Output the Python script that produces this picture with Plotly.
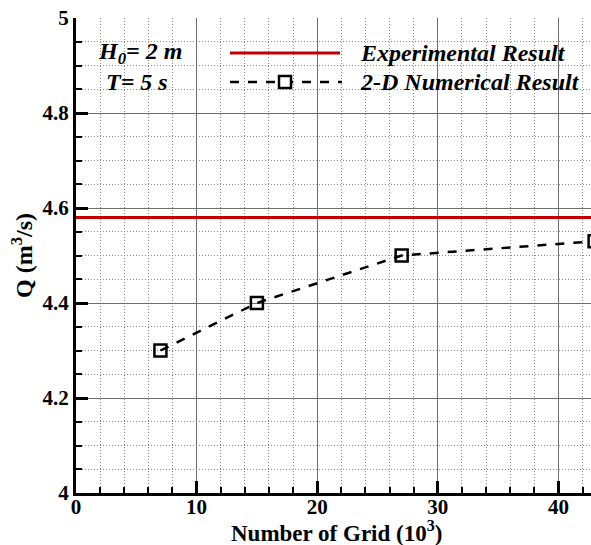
import plotly.graph_objects as go

# Data
grid_k = [7, 15, 27, 43]
q_numerical = [4.30, 4.40, 4.50, 4.53]
q_experimental = 4.58
x_ticks = [0, 10, 20, 30, 40]
y_ticks = [4.0, 4.2, 4.4, 4.6, 4.8, 5.0]
y_tick_labels = ["4", "4.2", "4.4", "4.6", "4.8", "5"]

FONT = "Liberation Serif"
RED = "#C00000"
TICK_SIZE = 21
TEXT_SIZE = 24

fig = go.Figure()

# experimental horizontal line
fig.add_trace(go.Scatter(
    x=[-5, 60], y=[q_experimental, q_experimental], mode="lines",
    line=dict(color=RED, width=3), showlegend=False, hoverinfo="skip"))

# numerical results
fig.add_trace(go.Scatter(
    x=grid_k, y=q_numerical, mode="lines+markers",
    line=dict(color="black", width=2.5, dash="9px,9px"),
    marker=dict(symbol="square-open", size=12, color="black",
                line=dict(color="black", width=2.5)),
    showlegend=False, hoverinfo="skip"))

axis_common = dict(
    showline=True, linecolor="black", linewidth=3, mirror=False,
    ticks="inside", ticklen=12, tickwidth=3, tickcolor="black",
    showgrid=True, gridcolor="#6e6e6e", gridwidth=1,
    zeroline=False,
    tickfont=dict(family=FONT, size=TICK_SIZE, color="black", weight="bold"),
)

fig.update_xaxes(
    range=[0, 42.7], tickvals=x_ticks, ticktext=[str(v) for v in x_ticks],
    ticklabelstandoff=-7,
    minor=dict(dtick=2, ticks="inside", ticklen=6, tickwidth=2, tickcolor="black",
               showgrid=True, gridcolor="#8c8c8c", gridwidth=1, griddash="1px,2px"),
    **axis_common)
fig.update_yaxes(
    range=[4.0, 5.0], tickvals=y_ticks, ticktext=y_tick_labels,
    minor=dict(dtick=0.05, ticks="inside", ticklen=6, tickwidth=2, tickcolor="black",
               showgrid=True, gridcolor="#8c8c8c", gridwidth=1, griddash="1px,2px"),
    **axis_common)

plot_left, plot_w = 76, 515
plot_top, plot_h = 18, 475


def px(v):
    return (v - plot_left) / plot_w


def py(v):
    return 1 - (v - plot_top) / plot_h


annotations = [
    dict(text="<b>Number of Grid (10<sup>3</sup>)</b>", x=px(336), y=py(531),
         showarrow=False, xanchor="center", yanchor="middle",
         font=dict(family=FONT, size=23, color="black")),
    dict(text="<b>Q (m<sup>3</sup>/s)</b>", x=px(22), y=py(256), textangle=-90,
         showarrow=False, xanchor="center", yanchor="middle",
         font=dict(family=FONT, size=TEXT_SIZE, color="black")),
    dict(text="<b><i>H<sub>0</sub>= 2 m</i></b>", x=px(96), y=py(53),
         showarrow=False, xanchor="left", yanchor="middle",
         font=dict(family=FONT, size=TEXT_SIZE, color="black")),
    dict(text="<b><i>T= 5 s</i></b>", x=px(104), y=py(82),
         showarrow=False, xanchor="left", yanchor="middle",
         font=dict(family=FONT, size=TEXT_SIZE, color="black")),
    dict(text="<b><i>Experimental Result</i></b>", x=px(358), y=py(53),
         showarrow=False, xanchor="left", yanchor="middle",
         font=dict(family=FONT, size=TEXT_SIZE, color="black")),
    dict(text="<b><i>2-D Numerical Result</i></b>", x=px(358), y=py(82),
         showarrow=False, xanchor="left", yanchor="middle",
         font=dict(family=FONT, size=TEXT_SIZE, color="black")),
]
for a in annotations:
    a["xref"] = "paper"
    a["yref"] = "paper"

shapes = [
    dict(type="line", xref="paper", yref="paper", x0=px(230), x1=px(340), y0=py(53), y1=py(53),
         line=dict(color=RED, width=3)),
    dict(type="line", xref="paper", yref="paper", x0=px(230), x1=px(342), y0=py(82), y1=py(82),
         line=dict(color="black", width=2.5, dash="9px,9px")),
    dict(type="rect", xref="paper", yref="paper", xsizemode="pixel", ysizemode="pixel",
         xanchor=px(285), yanchor=py(82), x0=-6, x1=6, y0=-6, y1=6,
         line=dict(color="black", width=2.5), fillcolor="white"),
]

fig.update_layout(
    width=591, height=545,
    margin=dict(l=76, r=0, t=18, b=52),
    plot_bgcolor="white", paper_bgcolor="white",
    font=dict(family=FONT),
    annotations=annotations, shapes=shapes,
    showlegend=False,
)

fig.write_html("out.html")
